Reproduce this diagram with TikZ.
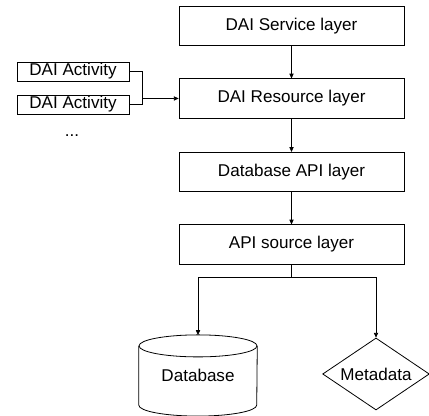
\documentclass[tikz,border=0pt]{standalone}
\usepackage{fontspec}
\setmainfont{Liberation Sans}
\usetikzlibrary{arrows.meta,shapes.geometric}
\begin{document}
\begin{tikzpicture}[x=0.75pt,y=0.75pt,
  font=\fontsize{12.8}{15}\selectfont,
  conn/.style={line width=0.6pt},
  arr/.style={conn,-{Triangle[length=3.5pt,width=3.2pt]}},
  layer/.style={draw,conn,minimum width=168.75pt,minimum height=29.6pt,inner sep=0pt},
  act/.style={draw,conn,minimum width=84pt,minimum height=14.25pt,inner sep=0pt}]
\useasboundingbox (0,0) rectangle (429,416);
\node[layer] (svc) at (291.5,390) {DAI Service layer};
\node[layer] (res) at (291.5,317.5) {DAI Resource layer};
\node[layer] (dbapi) at (291.5,244) {Database API layer};
\node[layer] (src) at (291.5,171.5) {API source layer};
\node[act] (a1) at (73,344.5) {DAI Activity};
\node[act] (a2) at (73,311.5) {DAI Activity};
\node (dots) at (72,280) {...};
\coordinate (j) at (142,317.5);
\draw[arr] (svc) -- (res);
\draw[arr] (res) -- (dbapi);
\draw[arr] (dbapi) -- (src);
\draw[conn] (a1.east) -| (j);
\draw[conn] (a2.east) -| (j);
\draw[arr] (j) -- (res.west);
% database cylinder
\node[minimum width=88.5pt,minimum height=44pt,inner sep=0pt] (db) at (198,40.5) {\raisebox{-3.5pt}{Database}};
\draw[conn] (db.north west) -- (db.south west) arc[start angle=180,end angle=360,x radius=44.25pt,y radius=8.25pt] -- (db.north east);
\draw[conn] (db.north) ellipse [x radius=44.25pt,y radius=8.25pt];
\coordinate (dbtop) at ([yshift=8.25pt]db.north);
% metadata diamond
\node[draw,conn,diamond,aspect=1.5,minimum width=80pt,minimum height=54pt,inner sep=0pt] (meta) at (376,42) {Metadata};
\coordinate (b) at (291.5,139);
\draw[conn] (src.south) -- (b);
\draw[arr] (b) -| (dbtop);
\draw[arr] (b) -| (meta.north);
\end{tikzpicture}
\end{document}
